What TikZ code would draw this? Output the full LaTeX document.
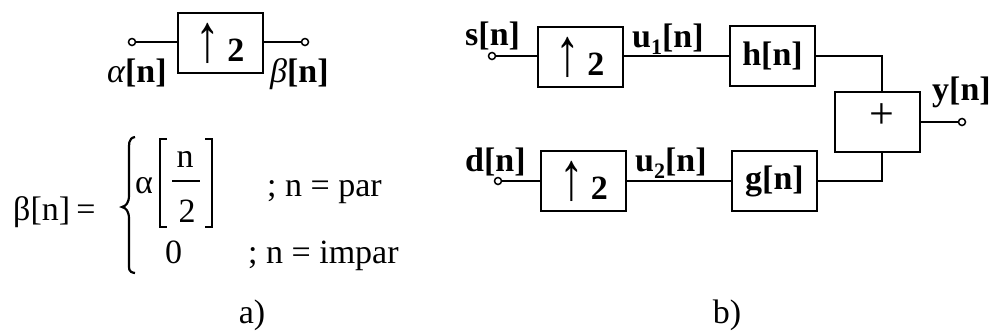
\documentclass[tikz,border=0pt]{standalone}
\usepackage{fontspec}
\setmainfont{Liberation Serif}
\newcommand\lblfont{\fontsize{34}{40}\selectfont\bfseries}
\newcommand\eqfont{\fontsize{34}{40}\selectfont}
\newcommand\lowidx[1]{\raisebox{-0.22em}{\fontsize{22}{22}\selectfont #1}}
% tall thin arrow followed by the factor
\newcommand\upby[1]{\scalebox{1.45}[2.0]{\mdseries ↑}\kern7pt #1}
\begin{document}
\begin{tikzpicture}[x=1pt,y=-1pt,
  blk/.style={draw,line width=2pt,minimum width=85pt,minimum height=60pt,inner sep=0pt,font=\lblfont},
  term/.style={circle,draw,fill=white,inner sep=0pt,minimum size=7pt,line width=1.5pt},
  wire/.style={line width=2pt},
  lbl/.style={inner sep=0pt,anchor=base west,font=\lblfont},
  eq/.style={inner sep=0pt,anchor=base west,font=\eqfont},
  stroke/.style={line width=2.2pt}]
\useasboundingbox (0,0) rectangle (990,330);

% --- a) the expander on its own
\node[blk] (upa) at (220,43) {\upby{2}};
\node[term] (ain) at (132,42) {};
\node[term] (aout) at (305,42) {};
\draw[wire] (ain) -- (ain -| upa.west);
\draw[wire] (upa.east |- aout) -- (aout);
\node[lbl] (alab) at (107,82) {{\mdseries\itshape α}[n]};
\node[lbl] (blab) at (270,82) {{\mdseries\itshape β}[n]};

% --- a) definition of the output
\node[eq] (lhs) at (13,220) {β[n]};
\node[eq,anchor=base] (eqs) at (86,220) {=};
\draw[stroke] (135,137) .. controls (128,138) and (129,145) .. (129,152)
  -- (129,195) .. controls (129,203) and (126,206) .. (122,207)
  .. controls (126,208) and (129,211) .. (129,219)
  -- (129,262) .. controls (129,269) and (128,272) .. (135,273);
\node[eq] (alpha) at (135,193) {α};
\draw[stroke] (167,139) -- (160,139) -- (160,227) -- (167,227);
\draw[stroke] (205,139) -- (212,139) -- (212,227) -- (205,227);
\node[eq,anchor=base] (num) at (185,167) {n};
\draw[line width=1.8pt] (172,181) -- (200,181);
\node[eq,anchor=base] (den) at (187,222) {2};
\node[eq] (even) at (267,196) {; n = par};
\node[eq] (zero) at (165,263) {0};
\node[eq] (odd) at (248,263) {; n = impar};
\node[eq,anchor=base] (capa) at (252,323) {a)};

% --- b) synthesis bank
\node[blk] (up1) at (580,57) {\upby{2}};
\node[blk] (hf) at (772.5,56) {h[n]};
\node[blk] (up2) at (583.5,181) {\upby{2}};
\node[blk] (gf) at (774.5,181) {g[n]};
\node[blk] (plus) at (877.5,122) {};
\node[inner sep=0pt,font=\fontsize{44}{44}\selectfont] (plussign) at (882,116) {+};
\node[term] (sin) at (492,56) {};
\node[term] (din) at (498,181) {};
\node[term] (yout) at (962,122) {};
\coordinate (pn) at ([xshift=4.5pt]plus.north);
\coordinate (ps) at ([xshift=4.5pt]plus.south);

\draw[wire] (sin) -- (sin -| up1.west);
\draw[wire] (up1.east |- sin) -- (hf);
\draw[wire] (din) -- (up2) -- (gf);
\draw[wire] (hf.east) -| (pn);
\draw[wire] (gf.east) -| (ps);
\draw[wire] (plus) -- (yout);

\node[lbl] (slab) at (465,45) {s[n]};
\node[lbl] (u1lab) at (632,47) {u\lowidx{1}[n]};
\node[lbl] (dlab) at (465,171) {d[n]};
\node[lbl] (u2lab) at (635,171) {u\lowidx{2}[n]};
\node[lbl] (ylab) at (932,100) {y[n]};
\node[eq,anchor=base] (capb) at (727,323) {b)};
\end{tikzpicture}
\end{document}
